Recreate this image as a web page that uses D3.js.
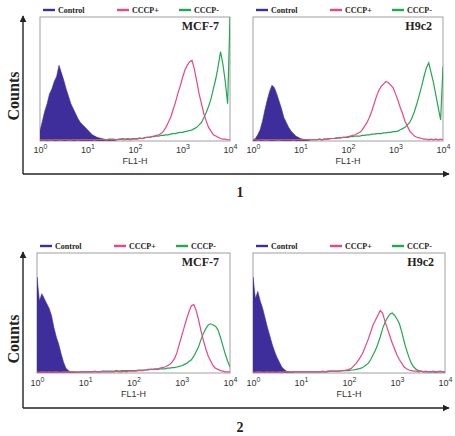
<!DOCTYPE html>
<html>
<head>
<meta charset="utf-8">
<script src="https://cdn.jsdelivr.net/npm/d3@7/dist/d3.min.js"></script>
<style>
  body { margin: 0; background: #fff; }
  svg { display: block; }
</style>
</head>
<body>
<svg id="chart" width="455" height="436"></svg>
<script>
// histogram channels are 0.05 decades wide, starting at 10^0
const binStep = 0.05;
const decadeTicks = [1, 10, 100, 1000, 10000];
const seriesNames = ['Control', 'CCCP+', 'CCCP-'];
const seriesColors = ['#3d2e9c', '#e8468b', '#22a94f'];
const figureLabels = ['1', '2'];

// ---- figure 1, MCF-7 ----
const mcf7A_control = [
  8, 16, 24, 30, 38, 42, 48, 52, 61, 55,
  49, 42, 36, 30, 26, 22, 18, 15, 13, 11,
  9, 7, 5, 4, 3, 2.5, 2, 1.5, 1, 0.8,
  0.5, 0.5, 0
];
const mcf7A_cccpPos = [
  1, 1, 0.5, 1, 1, 0.5, 1, 1, 1, 0.5,
  1, 1, 0.5, 1, 1, 1, 0.5, 1, 1, 1,
  1, 1, 1, 0.5, 1, 1, 1, 1, 0.5, 1,
  1, 1, 1, 1, 1.5, 1, 1, 1.5, 1, 1.5,
  1.5, 1.5, 2, 2, 2.5, 3, 3, 3.5, 4, 4.5,
  5, 6, 8, 11, 15, 19, 25, 31, 38, 44,
  51, 57, 61, 64, 65, 58, 48, 38, 30, 22,
  16, 11, 8, 5, 4, 3, 2, 1.5, 1.5, 1,
  1
];
const mcf7A_cccpNeg = [
  1, 0.5, 1, 1, 0.5, 1, 1, 1, 0.5, 1,
  1, 1, 1, 0.5, 1, 1, 1, 1, 1, 1,
  1, 1, 1, 1, 1, 1, 1.5, 1, 1, 1.5,
  1.5, 1.5, 1, 1.5, 1.5, 2, 1.5, 2, 1.5, 2,
  2, 2, 2.5, 2, 2.5, 3, 3, 3.5, 3.5, 4,
  4, 4.5, 4.5, 5, 5, 5.5, 6, 6, 6.5, 7,
  7, 7.5, 8, 8.5, 9, 10, 11, 13, 15, 19,
  23, 28, 34, 42, 50, 60, 72, 62, 48, 30,
  100
];

// ---- figure 1, H9c2 ----
const h9c2A_control = [
  1, 2, 5, 9, 16, 25, 33, 40, 45, 43,
  38, 32, 26, 19, 15, 11, 8, 6, 4, 3,
  2, 1.5, 1, 0.5, 0
];
const h9c2A_cccpPos = [
  1, 1, 0.5, 1, 1, 1, 0.5, 1, 1, 1,
  1, 0.5, 1, 1, 1, 1, 1, 0.5, 1, 1,
  1, 1, 1, 1, 1, 1, 1, 1, 1.5, 1,
  1.5, 1.5, 1.5, 2, 2, 2, 2.5, 2.5, 3, 3,
  3.5, 4, 4.5, 5, 6, 7, 9, 12, 15, 19,
  24, 30, 36, 41, 44, 46, 48, 47, 45, 43,
  38, 33, 27, 22, 16, 12, 8, 6, 4, 3,
  2.5, 2, 1.5, 1.5, 1, 1.5, 1, 1.5, 1, 1.5,
  1
];
const h9c2A_cccpNeg = [
  1, 1, 0.5, 1, 1, 0.5, 1, 1, 1, 1,
  0.5, 1, 1, 1, 1, 1, 1, 1, 1, 1,
  1, 1, 1, 1, 1, 1, 1, 1, 1.5, 1,
  1.5, 1.5, 2, 2, 2, 2.5, 2.5, 2.5, 3, 3,
  3, 3.5, 3.5, 4, 4, 4, 4.5, 4.5, 5, 5,
  5.5, 5.5, 6, 6, 6, 6.5, 6.5, 7, 7, 7.5,
  7.5, 8, 9, 10, 11, 13, 15, 19, 24, 30,
  37, 44, 52, 59, 63, 55, 47, 37, 27, 17,
  60
];

// ---- figure 2, MCF-7 ----
const mcf7B_control = [
  80, 60, 66, 62, 58, 54, 48, 38, 30, 24,
  16, 9, 4, 2, 1, 0.5, 0
];
const mcf7B_cccpPos = [
  0.5, 0.5, 1, 0.5, 0.5, 1, 0.5, 0.5, 1, 0.5,
  0.5, 1, 0.5, 1, 0.5, 1, 1, 0.5, 1, 1,
  1, 1, 1, 1, 1, 1, 1, 1, 1, 1,
  1, 1, 1, 1.5, 1, 1, 1.5, 1, 1.5, 1.5,
  1.5, 1.5, 2, 2, 2, 2.5, 2.5, 3, 3, 3.5,
  3.5, 4, 4.5, 5, 6, 7, 9, 12, 17, 24,
  31, 38, 45, 51, 56, 57, 52, 44, 35, 27,
  20, 14, 10, 6, 4, 3, 2, 1.5, 1, 1,
  1
];
const mcf7B_cccpNeg = [
  0.5, 0.5, 0.5, 1, 0.5, 0.5, 0.5, 1, 0.5, 0.5,
  0.5, 0.5, 1, 0.5, 1, 1, 0.5, 1, 1, 1,
  1, 1, 1, 1, 1.5, 1, 1, 1.5, 1.5, 1.5,
  1.5, 1.5, 1.5, 2, 1.5, 2, 2, 2, 2, 2,
  2, 2, 2.5, 2.5, 2.5, 2.5, 3, 3, 3, 3,
  3, 3.5, 3.5, 3.5, 4, 4, 4.5, 4.5, 5, 5.5,
  6, 7, 8, 9.5, 11, 14, 18, 22, 28, 33,
  37, 40, 41, 40, 39, 36, 30, 23, 16, 10,
  5
];

// ---- figure 2, H9c2 ----
const h9c2B_control = [
  80, 62, 68, 60, 54, 46, 38, 31, 24, 18,
  13, 9, 5, 3, 1.5, 1, 0.5, 0
];
const h9c2B_cccpPos = [
  0.5, 0.5, 1, 0.5, 0.5, 0.5, 1, 0.5, 0.5, 0.5,
  0.5, 1, 0.5, 1, 1, 0.5, 1, 1, 1, 1,
  1, 1, 1, 1, 1, 1, 1, 1, 1, 1.5,
  1, 1.5, 1.5, 1.5, 1.5, 1.5, 1.5, 2, 2, 2.5,
  3, 4, 6, 8, 11, 14, 18, 23, 28, 34,
  40, 44, 48, 52, 50, 43, 37, 31, 25, 20,
  15, 11, 8, 5, 3.5, 2.5, 2, 1.5, 1.5, 1,
  1.5, 1, 1.5, 1, 1, 1.5, 1, 1, 1.5, 1,
  1
];
const h9c2B_cccpNeg = [
  0.5, 0.5, 0.5, 1, 0.5, 0.5, 0.5, 0.5, 1, 0.5,
  0.5, 0.5, 1, 0.5, 1, 1, 0.5, 1, 1, 1,
  1, 1, 1, 1, 1, 1, 1, 1, 1, 1,
  1, 1, 1.5, 1.5, 1.5, 1.5, 1.5, 2, 2, 2,
  2, 2.5, 2.5, 3, 3.5, 4, 5, 6.5, 8, 11,
  15, 19, 24, 30, 37, 42, 46, 49, 50, 48,
  45, 41, 34, 26, 19, 13, 8, 5, 3, 2,
  1.5, 1, 1, 1, 1, 1, 0.5, 1, 1, 1,
  1
];

// layout of the two stacked figures
const figures = [
  { top: 17, base: 141, frameBottom: 174, legendY: 10, tickY: 12, titleY: 23, labelY: 197, countsY: 96,
    panels: [
      { x0: 40, x1: 230, cell: 'MCF-7', series: [mcf7A_control, mcf7A_cccpPos, mcf7A_cccpNeg] },
      { x0: 253, x1: 443, cell: 'H9c2', series: [h9c2A_control, h9c2A_cccpPos, h9c2A_cccpNeg] }
    ] },
  { top: 253, base: 373, frameBottom: 408, legendY: 246, tickY: 13, titleY: 24, labelY: 432, countsY: 339,
    panels: [
      { x0: 37, x1: 230, cell: 'MCF-7', series: [mcf7B_control, mcf7B_cccpPos, mcf7B_cccpNeg] },
      { x0: 253, x1: 445, cell: 'H9c2', series: [h9c2B_control, h9c2B_cccpPos, h9c2B_cccpNeg] }
    ] }
];

const serif = '"Liberation Serif", "Times New Roman", serif';
const sans = '"Liberation Sans", Arial, sans-serif';

const svg = d3.select('#chart');

svg.append('defs').append('marker')
    .attr('id', 'arrow')
    .attr('viewBox', '0 0 10 10')
    .attr('refX', 9).attr('refY', 5)
    .attr('markerWidth', 5).attr('markerHeight', 5)
    .attr('markerUnits', 'strokeWidth')
    .attr('orient', 'auto-start-reverse')
  .append('path')
    .attr('d', 'M0,0L10,5L0,10z')
    .attr('fill', '#222');

const legendOffsets = [3, 77, 139];

figures.forEach((fig, fi) => {
    const g = svg.append('g');

    // outer L-shaped frame with arrows
    g.append('path')
        .attr('d', `M23,${fig.frameBottom}L23,${fig.top - 1}`)
        .attr('stroke', '#222').attr('stroke-width', 1.4).attr('fill', 'none')
        .attr('marker-end', 'url(#arrow)');
    g.append('path')
        .attr('d', `M23,${fig.frameBottom}L449,${fig.frameBottom}`)
        .attr('stroke', '#222').attr('stroke-width', 1.4).attr('fill', 'none')
        .attr('marker-end', 'url(#arrow)');

    g.append('text')
        .attr('transform', `translate(19,${fig.countsY}) rotate(-90)`)
        .attr('text-anchor', 'middle')
        .style('font-family', serif).style('font-weight', 'bold').style('font-size', '16px')
        .attr('fill', '#222')
        .text('Counts');

    g.append('text')
        .attr('x', 240).attr('y', fig.labelY)
        .attr('text-anchor', 'middle')
        .style('font-family', serif).style('font-weight', 'bold').style('font-size', '14px')
        .attr('fill', '#222')
        .text(figureLabels[fi]);

    fig.panels.forEach((p, pi) => {
        const x = d3.scaleLog().domain([1, 10000]).range([p.x0, p.x1]);
        const y = d3.scaleLinear().domain([0, 100]).range([fig.base, fig.top]);
        const clipId = `clip-${fi}-${pi}`;

        g.append('clipPath').attr('id', clipId)
          .append('rect')
            .attr('x', p.x0).attr('y', fig.top)
            .attr('width', p.x1 - p.x0).attr('height', fig.base - fig.top);

        // legend
        const leg = g.append('g');
        seriesNames.forEach((name, si) => {
            const lx = p.x0 + legendOffsets[si];
            leg.append('line')
                .attr('x1', lx).attr('x2', lx + 12)
                .attr('y1', fig.legendY).attr('y2', fig.legendY)
                .attr('stroke', seriesColors[si]).attr('stroke-width', 2.4);
            leg.append('text')
                .attr('x', lx + 15).attr('y', fig.legendY + 3)
                .style('font-family', serif).style('font-weight', 'bold').style('font-size', '8px')
                .attr('fill', '#222')
                .text(name);
        });

        // plot box
        g.append('rect')
            .attr('x', p.x0).attr('y', fig.top)
            .attr('width', p.x1 - p.x0).attr('height', fig.base - fig.top)
            .attr('fill', 'none').attr('stroke', '#a0a0a0').attr('stroke-width', 1);

        const plot = g.append('g').attr('clip-path', `url(#${clipId})`);

        const binX = (d, i) => x(Math.pow(10, i * binStep));

        const area = d3.area()
            .x(binX).y0(y(0)).y1(d => y(d))
            .curve(d3.curveLinear);
        const line = d3.line()
            .x(binX).y(d => y(d))
            .curve(d3.curveLinear);

        plot.append('path')
            .datum(p.series[0])
            .attr('d', area)
            .attr('fill', seriesColors[0])
            .attr('stroke', seriesColors[0]).attr('stroke-width', 0.6);

        [2, 1].forEach(si => {
            plot.append('path')
                .datum(p.series[si])
                .attr('d', line)
                .attr('fill', 'none')
                .attr('stroke', seriesColors[si])
                .attr('stroke-width', 1.2);
        });

        // bottom axis with 10^n labels
        const axis = g.append('g')
            .attr('transform', `translate(0,${fig.base})`)
            .call(d3.axisBottom(x).tickValues(decadeTicks).tickSize(0).tickFormat(() => ''));
        axis.select('.domain').remove();
        axis.selectAll('.tick text').each(function(d) {
            const t = d3.select(this)
                .attr('y', fig.tickY).attr('dy', null)
                .attr('fill', '#333')
                .style('font-family', sans).style('font-size', '9px');
            t.append('tspan').text('10');
            t.append('tspan')
                .attr('dy', -4).style('font-size', '7px')
                .text(Math.round(Math.log10(d)));
        });

        g.append('text')
            .attr('x', x(100)).attr('y', fig.base + fig.titleY)
            .attr('text-anchor', 'middle')
            .style('font-family', sans).style('font-size', '9px')
            .attr('fill', '#333')
            .text('FL1-H');

        g.append('text')
            .attr('x', p.x1 - 11).attr('y', fig.top + 13)
            .attr('text-anchor', 'end')
            .style('font-family', serif).style('font-weight', 'bold').style('font-size', '12px')
            .attr('fill', '#222')
            .text(p.cell);
    });
});
</script>
</body>
</html>
